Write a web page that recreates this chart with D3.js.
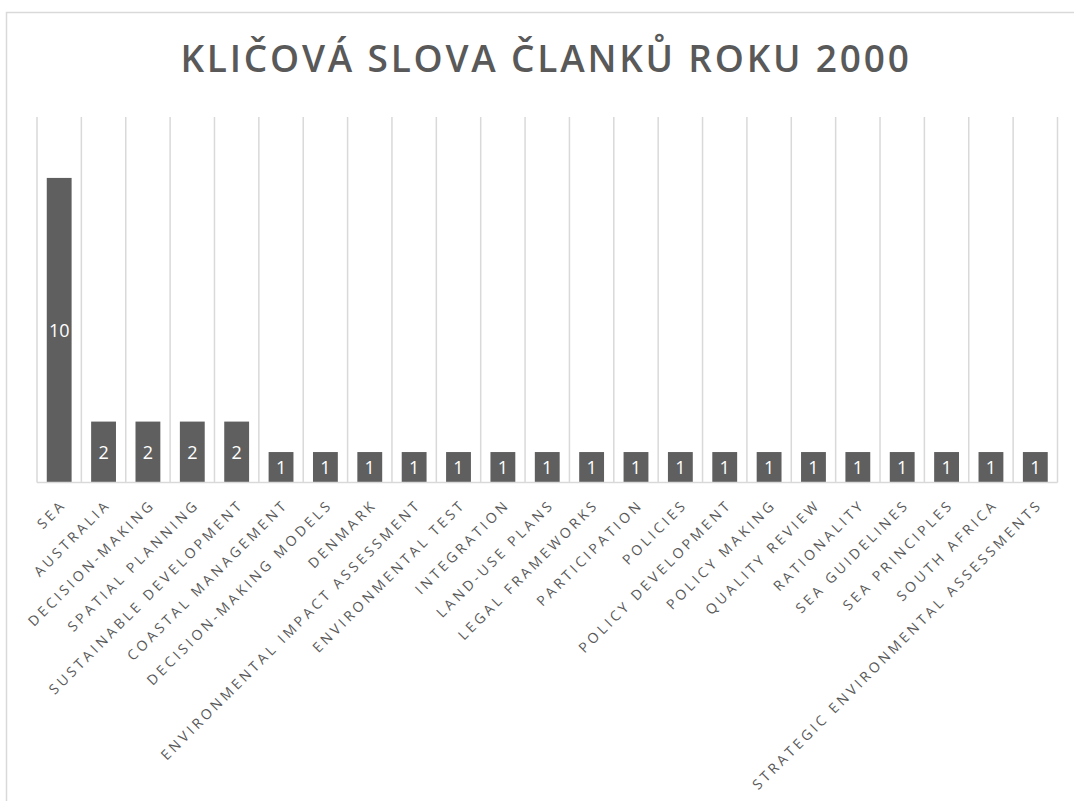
<!DOCTYPE html>
<html>
<head>
<meta charset="utf-8">
<script src="https://cdn.jsdelivr.net/npm/d3@7"></script>
<style>
  body { margin: 0; background: #fff; }
  svg { display: block; }
</style>
</head>
<body>
<svg id="chart" width="1074" height="801"></svg>
<script>
// data
const chartTitle = "KLIČOVÁ SLOVA ČLANKŮ ROKU 2000"
const keywords = [
  "SEA", "AUSTRALIA", "DECISION-MAKING", "SPATIAL PLANNING", "SUSTAINABLE DEVELOPMENT",
  "COASTAL MANAGEMENT", "DECISION-MAKING MODELS", "DENMARK", "ENVIRONMENTAL IMPACT ASSESSMENT",
  "ENVIRONMENTAL TEST", "INTEGRATION", "LAND-USE PLANS", "LEGAL FRAMEWORKS", "PARTICIPATION",
  "POLICIES", "POLICY DEVELOPMENT", "POLICY MAKING", "QUALITY REVIEW", "RATIONALITY",
  "SEA GUIDELINES", "SEA PRINCIPLES", "SOUTH AFRICA", "STRATEGIC ENVIRONMENTAL ASSESSMENTS"
]
const counts = [10, 2, 2, 2, 2, 1, 1, 1, 1, 1, 1, 1, 1, 1, 1, 1, 1, 1, 1, 1, 1, 1, 1]

const rows = keywords.map((k, i) => ({ name: k, value: counts[i] }))

let svg = d3.select("#chart")

// outer chart frame (only left and top edges are visible in the picture)
svg.append("rect")
   .attr("x", 6.5)
   .attr("y", 12.5)
   .attr("width", 1100)
   .attr("height", 900)
   .attr("fill", "none")
   .attr("stroke", "#d9d9d9")
   .attr("stroke-width", 1.5)

svg.append("text")
   .text(chartTitle)
   .attr("x", 546)
   .attr("y", 72)
   .attr("text-anchor", "middle")
   .style("font-family", "'Open Sans', sans-serif")
   .style("font-weight", "600")
   .style("font-size", "37px")
   .style("letter-spacing", "2.8px")
   .attr("fill", "#595959")

const plotLeft = 37, plotRight = 1057.5, plotTop = 117, plotBottom = 482.5

let x = d3.scaleBand()
          .domain(keywords)
          .range([plotLeft, plotRight])
          .padding(0)

let y = d3.scaleLinear()
          .domain([0, 12])
          .range([plotBottom, plotTop])

// vertical separators between categories
const edges = keywords.map(k => x(k)).concat([plotRight])
svg.selectAll("line.grid")
   .data(edges)
   .enter()
   .append("line")
   .attr("class", "grid")
   .attr("x1", d => d)
   .attr("x2", d => d)
   .attr("y1", plotTop)
   .attr("y2", plotBottom)
   .attr("stroke", "#d9d9d9")
   .attr("stroke-width", 1.5)

const barW = x.bandwidth() * 0.56

svg.selectAll("rect.bar")
   .data(rows)
   .enter()
   .append("rect")
   .attr("class", "bar")
   .attr("x", d => x(d.name) + (x.bandwidth() - barW) / 2)
   .attr("y", d => y(d.value))
   .attr("width", barW)
   .attr("height", d => y(0) - y(d.value))
   .attr("fill", "#5f5f5f")

// baseline
svg.append("line")
   .attr("x1", plotLeft)
   .attr("x2", plotRight)
   .attr("y1", plotBottom)
   .attr("y2", plotBottom)
   .attr("stroke", "#d9d9d9")
   .attr("stroke-width", 1.5)

svg.selectAll("text.val")
   .data(rows)
   .enter()
   .append("text")
   .attr("class", "val")
   .text(d => d.value)
   .attr("x", d => x(d.name) + x.bandwidth() / 2)
   .attr("y", d => (y(d.value) + y(0)) / 2)
   .attr("dy", "0.36em")
   .attr("text-anchor", "middle")
   .style("font-family", "'Open Sans', sans-serif")
   .style("font-size", "18px")
   .attr("fill", "#ffffff")

svg.selectAll("text.cat")
   .data(rows)
   .enter()
   .append("text")
   .attr("class", "cat")
   .text(d => d.name)
   .attr("text-anchor", "end")
   .attr("transform", d => "translate(" + (x(d.name) + x.bandwidth() / 2 + 8) + "," + (plotBottom + 23) + ") rotate(-45)")
   .style("font-family", "'Open Sans', sans-serif")
   .style("font-size", "14px")
   .style("letter-spacing", "3.3px")
   .attr("fill", "#595959")
</script>
</body>
</html>
